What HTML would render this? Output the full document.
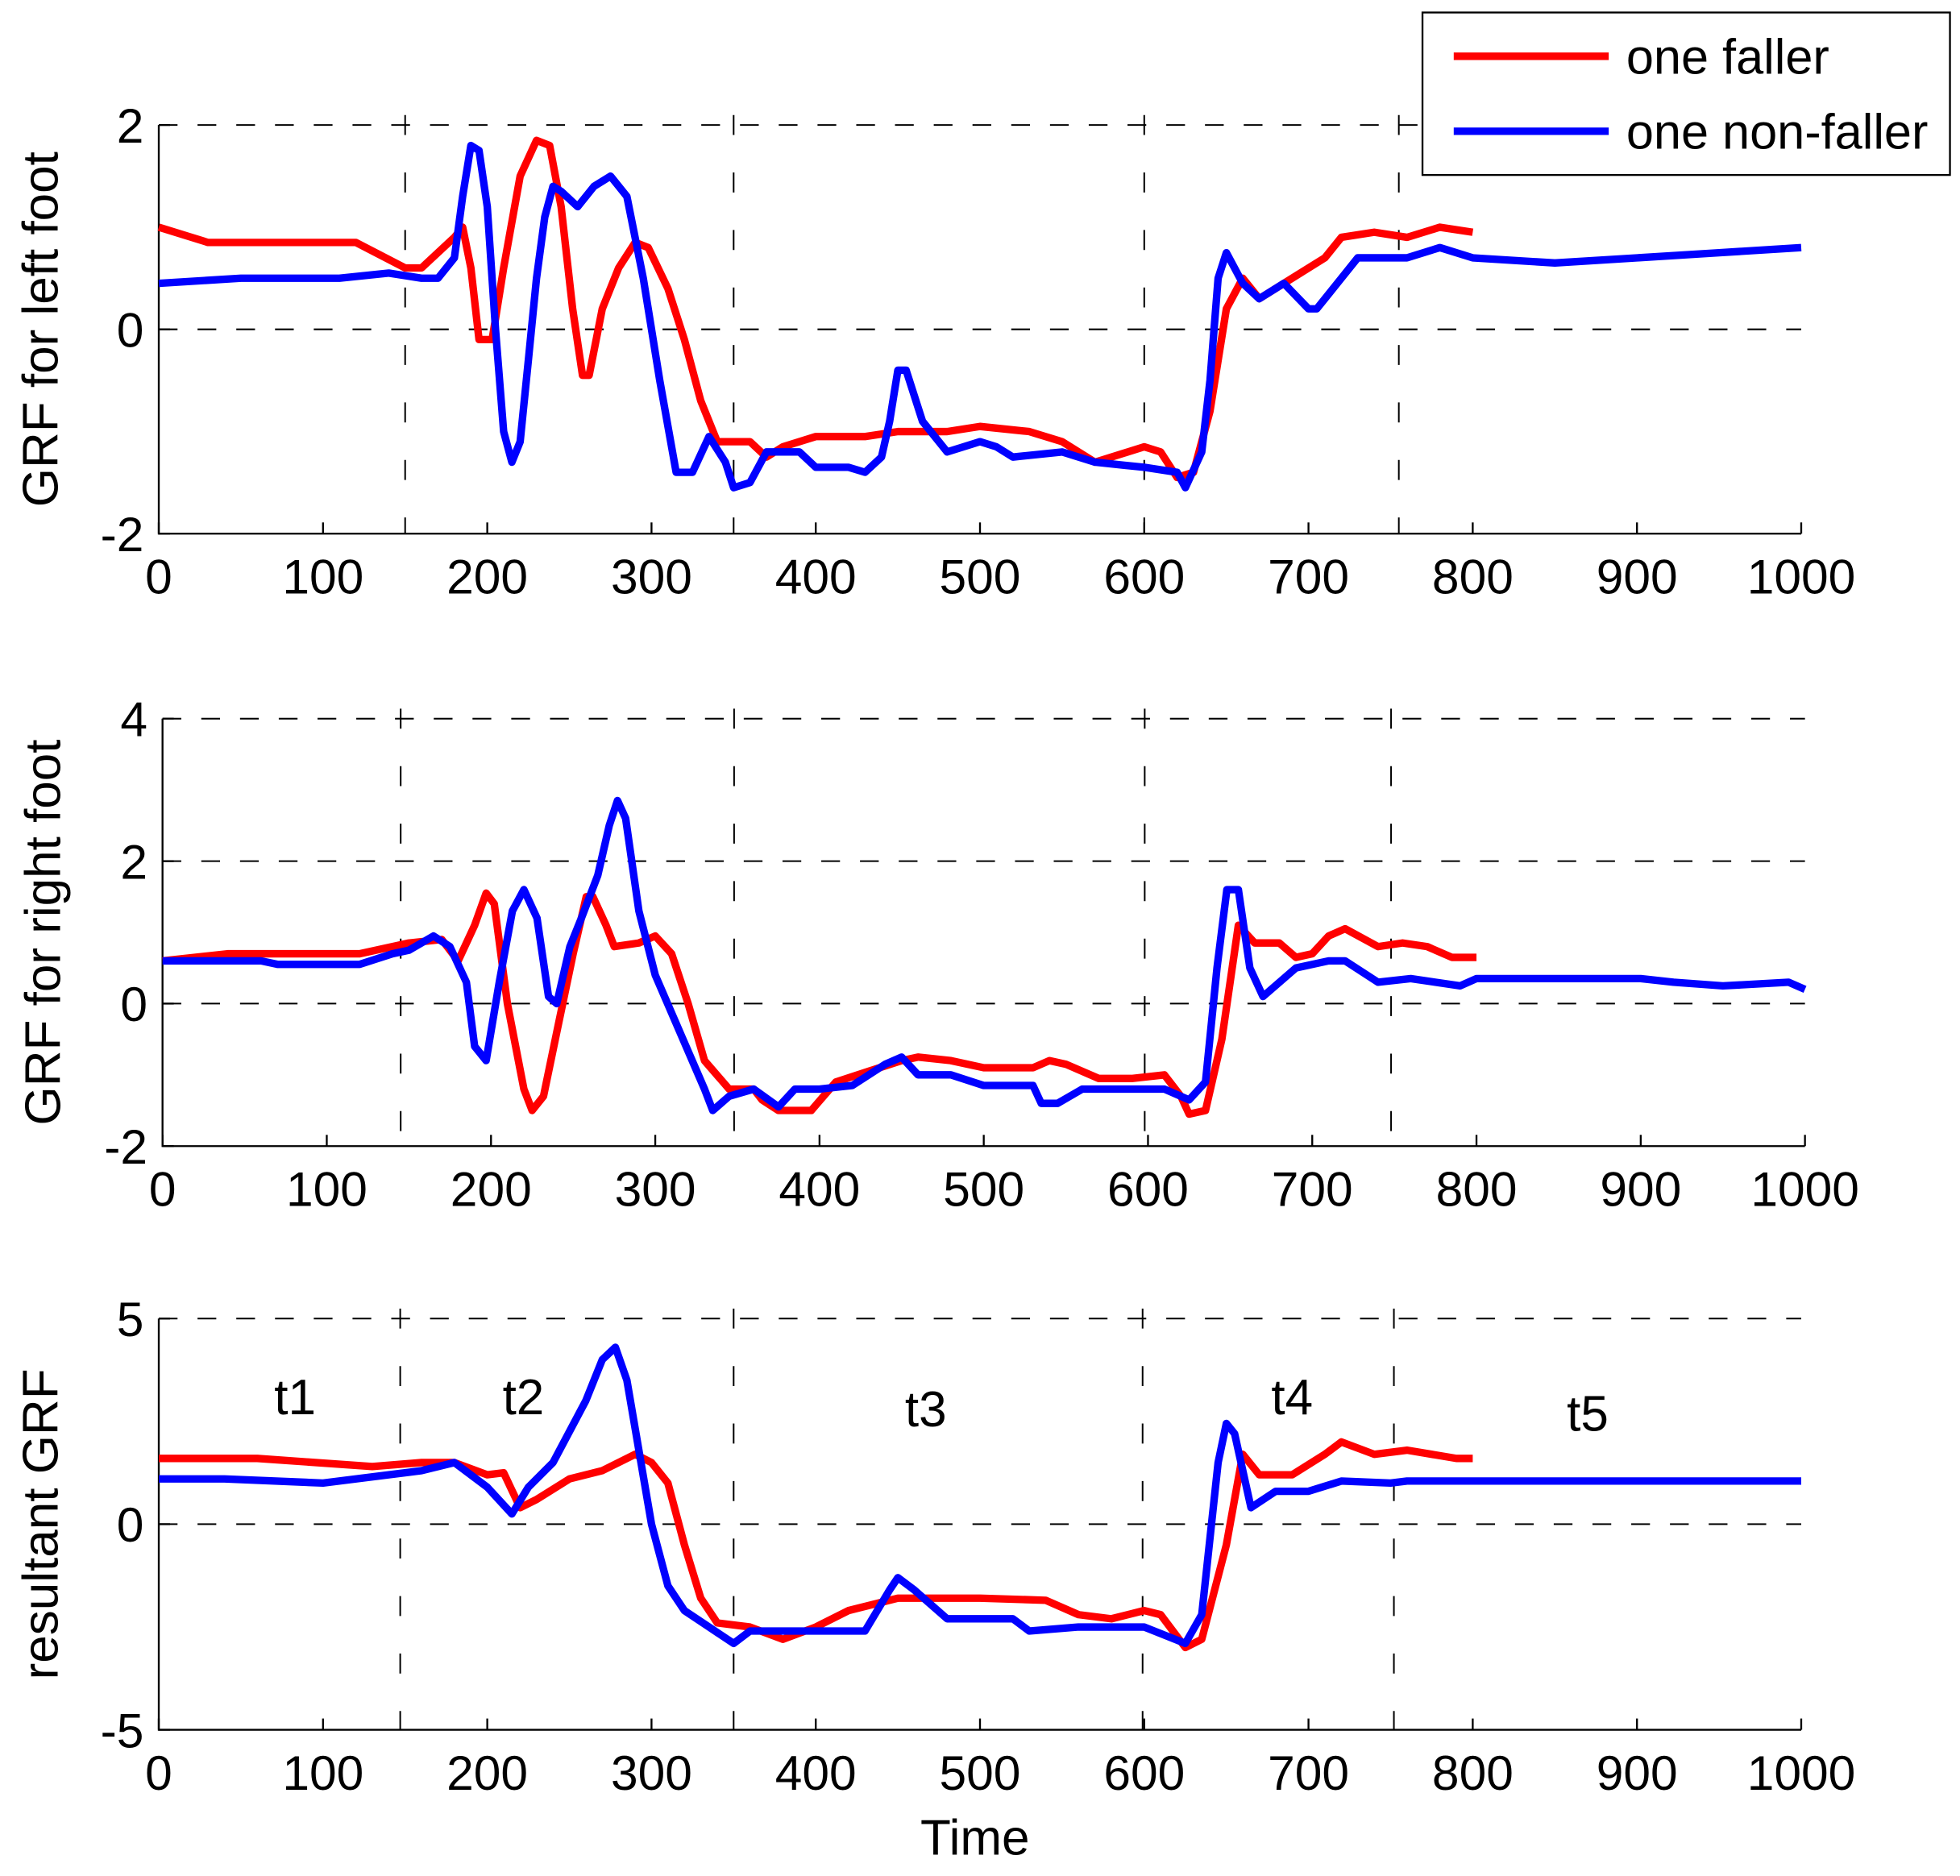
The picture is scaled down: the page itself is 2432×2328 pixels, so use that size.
<!DOCTYPE html>
<html><head><meta charset="utf-8"><style>
html,body{margin:0;padding:0;background:#fff;}
svg{display:block;}
text{font-family:"Liberation Sans",Arial,sans-serif;fill:#000;}
</style></head><body>
<svg id="chart" xmlns="http://www.w3.org/2000/svg" width="2432" height="2328" viewBox="0 0 1568 1501">
<rect x="0" y="0" width="1568" height="1501" fill="#fff"/>
</svg>
<script>
// ---- data ----
const xTicks = [0,100,200,300,400,500,600,700,800,900,1000];
const phaseLabels = ["t1","t2","t3","t4","t5"];
const phaseLabelX = [83,222,467,690,870];
const phaseLabelY = [3.1,3.1,2.8,3.1,2.7];
const legendNames = ["one faller","one non-faller"];

const p1RedT = [0,20,30,120,150,160,180,185,190,195,203,210,220,230,238,245,252,258,262,270,280,290,298,310,320,330,340,350,360,370,380,400,430,450,480,500,530,550,570,590,600,610,620,630,640,650,660,670,690,710,720,740,760,780,800];
const p1RedV = [1.0,0.9,0.85,0.85,0.6,0.6,0.9,1.0,0.6,-0.1,-0.1,0.6,1.5,1.85,1.8,1.2,0.2,-0.45,-0.45,0.2,0.6,0.85,0.8,0.4,-0.1,-0.7,-1.1,-1.1,-1.1,-1.25,-1.15,-1.05,-1.05,-1.0,-1.0,-0.95,-1.0,-1.1,-1.3,-1.2,-1.15,-1.2,-1.45,-1.4,-0.8,0.2,0.5,0.3,0.5,0.7,0.9,0.95,0.9,1.0,0.95];
const p1BlueT = [0,50,110,140,160,170,180,185,190,195,200,205,210,215,220,225,230,235,240,245,255,265,275,285,295,305,315,325,335,345,350,360,370,390,400,420,430,440,445,450,455,465,480,500,510,520,550,570,600,620,625,635,640,645,650,660,670,685,700,705,720,730,760,780,800,850,900,950,1000];
const p1BlueV = [0.45,0.5,0.5,0.55,0.5,0.5,0.7,1.3,1.8,1.75,1.2,0.0,-1.0,-1.3,-1.1,-0.3,0.5,1.1,1.4,1.35,1.2,1.4,1.5,1.3,0.5,-0.5,-1.4,-1.4,-1.05,-1.3,-1.55,-1.5,-1.2,-1.2,-1.35,-1.35,-1.4,-1.25,-0.9,-0.4,-0.4,-0.9,-1.2,-1.1,-1.15,-1.25,-1.2,-1.3,-1.35,-1.4,-1.55,-1.2,-0.5,0.5,0.75,0.45,0.3,0.45,0.2,0.2,0.5,0.7,0.7,0.8,0.7,0.65,0.7,0.75,0.8];

const p2RedT = [0,40,120,150,170,180,190,197,202,210,220,225,232,240,250,258,262,270,275,290,300,310,320,330,345,360,365,375,395,410,430,450,460,480,500,530,540,550,570,590,610,620,625,635,645,655,665,680,690,700,710,720,740,755,770,785,800];
const p2RedV = [0.6,0.7,0.7,0.85,0.9,0.6,1.1,1.55,1.4,0,-1.2,-1.5,-1.3,-0.4,0.7,1.5,1.5,1.1,0.8,0.85,0.95,0.7,0,-0.8,-1.2,-1.2,-1.35,-1.5,-1.5,-1.1,-0.95,-0.8,-0.75,-0.8,-0.9,-0.9,-0.8,-0.85,-1.05,-1.05,-1.0,-1.3,-1.55,-1.5,-0.5,1.1,0.85,0.85,0.65,0.7,0.95,1.05,0.8,0.85,0.8,0.65,0.65];
const p2BlueT = [0,60,70,120,140,150,165,175,185,190,197,205,213,220,228,235,240,248,255,265,272,277,282,290,300,315,330,335,345,360,375,385,400,420,440,450,460,480,500,530,535,545,560,590,610,625,635,642,648,655,662,670,690,710,720,740,760,790,800,850,900,920,950,990,1000];
const p2BlueV = [0.6,0.6,0.55,0.55,0.7,0.75,0.95,0.8,0.3,-0.6,-0.8,0.3,1.3,1.6,1.2,0.1,0,0.8,1.2,1.8,2.5,2.85,2.6,1.3,0.4,-0.4,-1.2,-1.5,-1.3,-1.2,-1.45,-1.2,-1.2,-1.15,-0.85,-0.75,-1.0,-1.0,-1.15,-1.15,-1.4,-1.4,-1.2,-1.2,-1.2,-1.35,-1.1,0.5,1.6,1.6,0.5,0.1,0.5,0.6,0.6,0.3,0.35,0.25,0.35,0.35,0.35,0.3,0.25,0.3,0.2];

const p3RedT = [0,60,130,160,180,200,210,220,230,250,270,290,300,310,320,330,340,360,380,400,420,450,500,540,560,580,600,610,625,635,650,660,670,690,710,720,740,760,790,800];
const p3RedV = [1.6,1.6,1.4,1.5,1.5,1.2,1.25,0.4,0.6,1.1,1.3,1.7,1.5,1.0,-0.5,-1.8,-2.4,-2.5,-2.8,-2.5,-2.1,-1.8,-1.8,-1.85,-2.2,-2.3,-2.1,-2.2,-3.0,-2.8,-0.5,1.7,1.2,1.2,1.7,2.0,1.7,1.8,1.6,1.6];
const p3BlueT = [0,40,100,140,160,180,200,215,225,240,260,270,278,285,300,310,320,335,350,360,400,430,445,450,460,480,520,530,560,600,625,635,645,650,655,665,680,700,720,750,760,1000];
const p3BlueV = [1.1,1.1,1.0,1.2,1.3,1.5,0.9,0.25,0.9,1.5,3.0,4.0,4.3,3.5,0,-1.5,-2.1,-2.5,-2.9,-2.6,-2.6,-2.6,-1.6,-1.3,-1.6,-2.3,-2.3,-2.6,-2.5,-2.5,-2.9,-2.2,1.5,2.45,2.2,0.4,0.8,0.8,1.05,1.0,1.05,1.05];

// ---- layout ----
const NS = "http://www.w3.org/2000/svg";
const svg = document.getElementById("chart");
function mk(tag, attrs, parent){
  const e = document.createElementNS(NS, tag);
  for (const k in attrs) e.setAttribute(k, attrs[k]);
  (parent||svg).appendChild(e);
  return e;
}
const panels = [
  {key:"left-foot", x0:127,x1:1441,yTop:100,yBot:427,ymin:-2,ymax:2,yt:[-2,0,2],label:"GRF for left foot",lx:33,
   vlines:[150,350,600,755], redT:p1RedT, redV:p1RedV, blueT:p1BlueT, blueV:p1BlueV},
  {key:"right-foot", x0:130,x1:1444,yTop:575,yBot:917,ymin:-2,ymax:4,yt:[-2,0,2,4],label:"GRF for right foot",lx:35,
   vlines:[145,348,598,748], redT:p2RedT, redV:p2RedV, blueT:p2BlueT, blueV:p2BlueV},
  {key:"resultant", x0:127,x1:1441,yTop:1055,yBot:1384,ymin:-5,ymax:5,yt:[-5,0,5],label:"resultant GRF",lx:33,
   vlines:[147,350,599,752], redT:p3RedT, redV:p3RedV, blueT:p3BlueT, blueV:p3BlueV}
];

panels.forEach((p, pi) => {
  const g = mk("g", {});
  
  
  const sx = v => p.x0 + (v/1000)*(p.x1-p.x0);
  const sy = v => p.yBot - (v - p.ymin)/(p.ymax-p.ymin)*(p.yBot-p.yTop);
  p.yt.forEach(t => {
    if (t === p.ymin) return;
    const l = mk("line", {x1:p.x0,x2:p.x1,y1:sy(t),y2:sy(t),stroke:"#000","stroke-width":1.3,"stroke-dasharray":"15,16"}, g);
    
    
  });
  p.vlines.forEach(t => {
    const l = mk("line", {x1:sx(t),x2:sx(t),y1:p.yTop-8,y2:p.yBot,stroke:"#000","stroke-width":1.3,"stroke-dasharray":"16,30"}, g);
    
    
  });
  const ax = mk("path", {d:`M${p.x0},${p.yTop} V${p.yBot} H${p.x1}`,fill:"none",stroke:"#000","stroke-width":1.5}, g);
  
  
  xTicks.forEach(t => {
    const x = sx(t);
    mk("line", {x1:x,x2:x,y1:p.yBot,y2:p.yBot-9,stroke:"#000","stroke-width":1.5}, g);
    const tx = mk("text", {x:x,y:p.yBot+48,"text-anchor":"middle","font-size":39}, g);
    tx.textContent = t;
    
    
  });
  p.yt.forEach(t => {
    const y = sy(t);
    mk("line", {x1:p.x0,x2:p.x0+9,y1:y,y2:y,stroke:"#000","stroke-width":1.5}, g);
    const tx = mk("text", {x:p.x0-12,y:y+14,"text-anchor":"end","font-size":39}, g);
    tx.textContent = t;
    
    
  });
  const cy = (p.yTop+p.yBot)/2;
  const yl = mk("text", {x:p.lx+13,y:cy,"text-anchor":"middle","font-size":40,transform:`rotate(-90 ${p.lx+13} ${cy})`}, g);
  yl.textContent = p.label;
  
  
  const path = (T,V) => T.map((t,i)=>(i?"L":"M")+sx(t).toFixed(1)+","+sy(V[i]).toFixed(1)).join(" ");
  const r = mk("path", {d:path(p.redT,p.redV),fill:"none",stroke:"#ff0000","stroke-width":6,"stroke-linejoin":"round"}, g);
  
  
  const b = mk("path", {d:path(p.blueT,p.blueV),fill:"none",stroke:"#0000ff","stroke-width":6,"stroke-linejoin":"round"}, g);
  
  
  if (pi === 2) {
    phaseLabels.forEach((s,i) => {
      const tx = mk("text", {x:sx(phaseLabelX[i]),y:sy(phaseLabelY[i])+14,"text-anchor":"middle","font-size":40}, g);
      tx.textContent = s;
      
      
    });
    const xt = mk("text", {x:780,y:1484,"text-anchor":"middle","font-size":40}, g);
    xt.textContent = "Time";
    
    
  }
});

const lg = mk("g", {});


mk("rect", {x:1138,y:10,width:422,height:130,fill:"#fff",stroke:"#000","stroke-width":1.5}, lg);
["#ff0000","#0000ff"].forEach((c,i) => {
  const y = 45 + i*60;
  const l = mk("line", {x1:1163,x2:1287,y1:y,y2:y,stroke:c,"stroke-width":6}, lg);
  
  
  const t = mk("text", {x:1301,y:y+14,"font-size":39.5}, lg);
  t.textContent = legendNames[i];
  
  
});
</script>
</body></html>
